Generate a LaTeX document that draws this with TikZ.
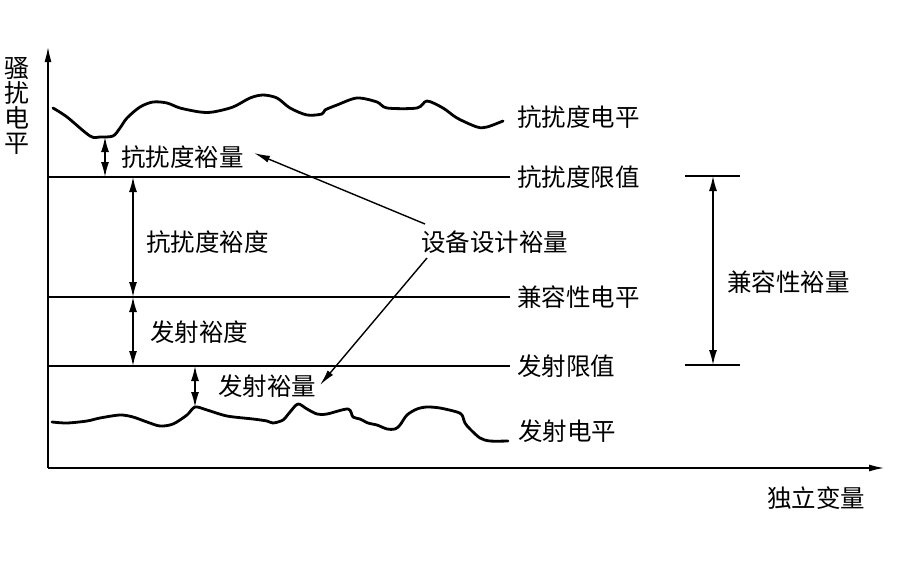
\documentclass[tikz,border=0pt]{standalone}
\usepackage{fontspec}
\setmainfont{Noto Sans CJK SC}
\usetikzlibrary{arrows.meta}
\begin{document}
\begin{tikzpicture}[x=1pt,y=-1pt,
  lbl/.style={font=\fontsize{24.5}{26}\selectfont, inner sep=0pt, anchor=west},
  lvl/.style={line width=2.2pt},
  wave/.style={line width=2.8pt, line join=round, line cap=round},
  dimarr/.style={line width=1.5pt, {Latex[length=15pt,width=8pt]}-{Latex[length=15pt,width=8pt]}},
  ptr/.style={line width=1.4pt, -{Latex[length=16pt,width=7pt]}},
  axis/.style={line width=2pt, -{Latex[length=16pt,width=7pt]}}]
\useasboundingbox (0,0) rectangle (900,562);
% axes
\coordinate (O) at (48,468);
\coordinate (Ytip) at (48,46);
\coordinate (Xtip) at (885,468);
\draw[axis] (O) -- (Ytip);
\draw[axis] (O) -- (Xtip);
\node[font=\fontsize{25}{25}\selectfont, inner sep=0pt, align=center] (ylab) at (17,106) {骚\\扰\\电\\平};
\node[lbl] (xlab) at (767,498) {独立变量};
% level lines
\coordinate (L1a) at (48,177); \coordinate (L1b) at (510,177);
\coordinate (L2a) at (48,297); \coordinate (L2b) at (510,297);
\coordinate (L3a) at (48,366); \coordinate (L3b) at (510,366);
\draw[lvl] (L1a) -- (L1b);
\draw[lvl] (L2a) -- (L2b);
\draw[lvl] (L3a) -- (L3b);
% immunity level curve
\draw[wave] plot[smooth, tension=0.5] coordinates {(53,108) (67,117) (90,136) (100,137) (113,136) (120,128) (127,118) (140,107) (153,102) (167,103) (180,108) (200,112) (213,112) (233,107) (250,98) (263,95) (277,98) (290,108) (307,115) (322,114) (325,110) (337,105) (357,98) (377,102) (387,108) (417,108) (427,101) (443,108) (457,118) (477,127) (487,127) (503,121)};
% emission level curve
\draw[wave] plot[smooth, tension=0.5] coordinates {(52,422) (67,423) (87,421) (100,418) (120,415) (133,417) (147,422) (160,426) (173,424) (187,415) (195,407) (207,410) (227,416) (253,419) (267,421) (273,423) (283,420) (290,412) (298,404) (307,409) (317,414) (327,414) (348,409) (353,417) (360,419) (368,423) (377,425) (387,429) (395,429) (400,425) (407,415) (417,409) (427,407) (440,408) (457,412) (462,415) (465,423) (470,429) (480,438) (490,441) (508,441)};
% right labels
\node[lbl] (t1) at (517,117) {抗扰度电平};
\node[lbl] (t2) at (517,177) {抗扰度限值};
\node[lbl] (t3) at (517,297) {兼容性电平};
\node[lbl] (t4) at (517,366) {发射限值};
\node[lbl] (t5) at (518,431) {发射电平};
% margins
\coordinate (a1) at (105,137); \coordinate (a2) at (105,177);
\draw[dimarr] (a1) -- (a2);
\node[lbl] (im) at (121,157) {抗扰度裕量};
\coordinate (b1) at (133,177); \coordinate (b2) at (133,297);
\draw[dimarr] (b1) -- (b2);
\node[lbl] (imd) at (146,242) {抗扰度裕度};
\coordinate (c1) at (133,297); \coordinate (c2) at (133,366);
\draw[dimarr] (c1) -- (c2);
\node[lbl] (emd) at (150,332) {发射裕度};
\coordinate (d1) at (195,366); \coordinate (d2) at (195,407);
\draw[dimarr] (d1) -- (d2);
\node[lbl] (em) at (218,386) {发射裕量};
% design margin
\node[lbl] (dm) at (421,242) {设备设计裕量};
\coordinate (p1) at (425,224); \coordinate (q1) at (254,153);
\coordinate (p2) at (427,258); \coordinate (q2) at (320,385);
\draw[ptr] (p1) -- (q1);
\draw[ptr] (p2) -- (q2);
% compatibility margin
\coordinate (r1a) at (685,176); \coordinate (r1b) at (740,176);
\coordinate (r2a) at (685,365); \coordinate (r2b) at (740,365);
\draw[lvl] (r1a) -- (r1b);
\draw[lvl] (r2a) -- (r2b);
\coordinate (s1) at (713,176); \coordinate (s2) at (713,365);
\draw[dimarr] (s1) -- (s2);
\node[lbl] (cm) at (727,282) {兼容性裕量};
\end{tikzpicture}
\end{document}
